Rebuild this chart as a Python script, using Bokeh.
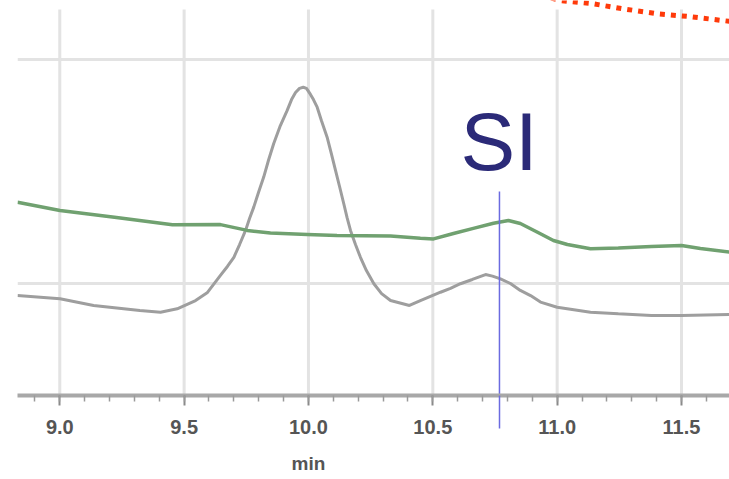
from bokeh.plotting import figure
from bokeh.models import (Range1d, SingleIntervalTicker, FixedTicker, Label,
                          LinearAxis, NumeralTickFormatter)
from bokeh.embed import file_html
from bokeh.resources import INLINE

# ---- data (time in min, signal in arbitrary units) ----
gray_t = [8.830, 9.001, 9.136, 9.322, 9.405, 9.472, 9.546, 9.594, 9.646, 9.674,
          9.700, 9.723, 9.747, 9.763, 9.780, 9.799, 9.820, 9.839, 9.860, 9.887,
          9.914, 9.932, 9.948, 9.964, 9.979, 9.992, 10.008, 10.020, 10.035, 10.052,
          10.075, 10.092, 10.109, 10.125, 10.142, 10.155, 10.169, 10.189, 10.209,
          10.233, 10.263, 10.294, 10.330, 10.406, 10.450, 10.531, 10.571, 10.611,
          10.659, 10.712, 10.740, 10.772, 10.812, 10.852, 10.893, 10.933, 11.000,
          11.134, 11.246, 11.379, 11.500, 11.693]
gray_v = [-0.054, -0.068, -0.098, -0.121, -0.128, -0.113, -0.076, -0.040, 0.036, 0.076,
          0.117, 0.174, 0.237, 0.290, 0.341, 0.406, 0.475, 0.549, 0.624, 0.705,
          0.772, 0.821, 0.853, 0.871, 0.876, 0.871, 0.844, 0.821, 0.787, 0.728,
          0.653, 0.580, 0.504, 0.433, 0.356, 0.295, 0.237, 0.174, 0.117,
          0.058, -0.001, -0.045, -0.076, -0.098, -0.076, -0.039, -0.022, -0.001,
          0.018, 0.040, 0.033, 0.021, 0.000, -0.031, -0.054, -0.083, -0.106,
          -0.128, -0.135, -0.143, -0.143, -0.138]

green_t = [8.830, 9.001, 9.228, 9.453, 9.646, 9.754, 9.847, 9.995, 10.115, 10.330,
           10.450, 10.503, 10.583, 10.663, 10.744, 10.804, 10.852, 10.921, 10.985,
           11.041, 11.134, 11.246, 11.379, 11.500, 11.576, 11.693]
green_v = [0.363, 0.326, 0.295, 0.262, 0.263, 0.237, 0.225, 0.219, 0.214, 0.212,
           0.202, 0.199, 0.223, 0.246, 0.269, 0.281, 0.268, 0.229, 0.192,
           0.174, 0.155, 0.158, 0.165, 0.170, 0.156, 0.140]

red_t = [10.933, 11.013, 11.142, 11.267, 11.403, 11.528, 11.665, 11.720]
red_v = [1.286, 1.263, 1.249, 1.226, 1.204, 1.192, 1.174, 1.167]

tick_values = [9.0, 9.5, 10.0, 10.5, 11.0, 11.5]
tick_labels = ["9.0", "9.5", "10.0", "10.5", "11.0", "11.5"]
grid_levels = [0.0, 1.0]

marker_t = 10.768
marker_top = 0.411
marker_text = "SI"
axis_title = "min"
axis_title_at = 10.0

# ---- figure ----
p = figure(width=729, height=479, output_backend="svg", toolbar_location=None,
           x_range=Range1d(8.830, 11.693), y_range=Range1d(-0.5, 1.2634),
           y_axis_location=None, min_border_left=17, min_border_right=0,
           min_border_top=0, min_border_bottom=84)
p.outline_line_color = None
p.background_fill_color = "white"
p.border_fill_color = "white"

# horizontal grid
p.ygrid.ticker = FixedTicker(ticks=grid_levels)
p.ygrid.grid_line_color = "#e3e3e3"
p.ygrid.grid_line_width = 3
p.xgrid.visible = False

# vertical grid lines (stop short of the top)
p.segment(x0=tick_values, x1=tick_values, y0=[-0.5] * len(tick_values),
          y1=[1.223] * len(tick_values), line_color="#e3e3e3", line_width=3)

# traces
p.line(gray_t, gray_v, line_color="#9e9e9e", line_width=3)
p.line(green_t, green_v, line_color="#70a170", line_width=3.5)
p.line(red_t, red_v, line_color="#ff3a0a", line_width=5, line_dash="5 6")

# marker line inside the plot area
p.segment(x0=[marker_t], x1=[marker_t], y0=[marker_top], y1=[-0.5],
          line_color="#6b6be0", line_width=1.5)
p.add_layout(Label(x=10.611, y=0.634, text=marker_text, text_font="Liberation Sans",
                   text_font_size="82px", text_color="#2b2a78",
                   text_baseline="alphabetic", text_align="left"))

# main x axis
ax = p.xaxis[0]
ax.ticker = SingleIntervalTicker(interval=0.5, num_minor_ticks=5)
ax.formatter = NumeralTickFormatter(format="0.0")
ax.major_label_overrides = {v: s for v, s in zip(tick_values, tick_labels)}
ax.axis_line_color = "#a8a8a8"
ax.axis_line_width = 4
ax.major_tick_line_color = "#8a8a8a"
ax.major_tick_line_width = 2
ax.major_tick_out = 10
ax.major_tick_in = 0
ax.minor_tick_line_color = "#9a9a9a"
ax.minor_tick_line_width = 1.5
ax.minor_tick_out = 6
ax.minor_tick_in = 0
ax.major_label_text_font = "Liberation Sans"
ax.major_label_text_font_style = "bold"
ax.major_label_text_font_size = "20px"
ax.major_label_text_color = "#555555"
ax.major_label_standoff = 14

# zero-size axis next to the frame: carries the marker line below the axis line
mk = LinearAxis(ticker=FixedTicker(ticks=[marker_t]))
mk.axis_line_color = None
mk.major_tick_out = 0
mk.major_tick_in = -33
mk.major_tick_line_color = "#6b6be0"
mk.major_tick_line_width = 1.5
mk.minor_tick_line_color = None
mk.major_label_text_color = None
mk.major_label_text_font_size = "0px"
mk.major_label_standoff = 0
mk.level = "overlay"

# axis title as a single labelled position at 10.0 min
tt = LinearAxis(ticker=FixedTicker(ticks=[axis_title_at]))
tt.major_label_overrides = {axis_title_at: axis_title}
tt.axis_line_color = None
tt.major_tick_line_color = None
tt.minor_tick_line_color = None
tt.major_tick_out = 0
tt.major_tick_in = 0
tt.major_label_standoff = 16
tt.major_label_text_font = "Liberation Sans"
tt.major_label_text_font_style = "bold"
tt.major_label_text_font_size = "19px"
tt.major_label_text_color = "#555555"

p.below = [mk, ax, tt]

open("out.html", "w").write(file_html(p, INLINE))
